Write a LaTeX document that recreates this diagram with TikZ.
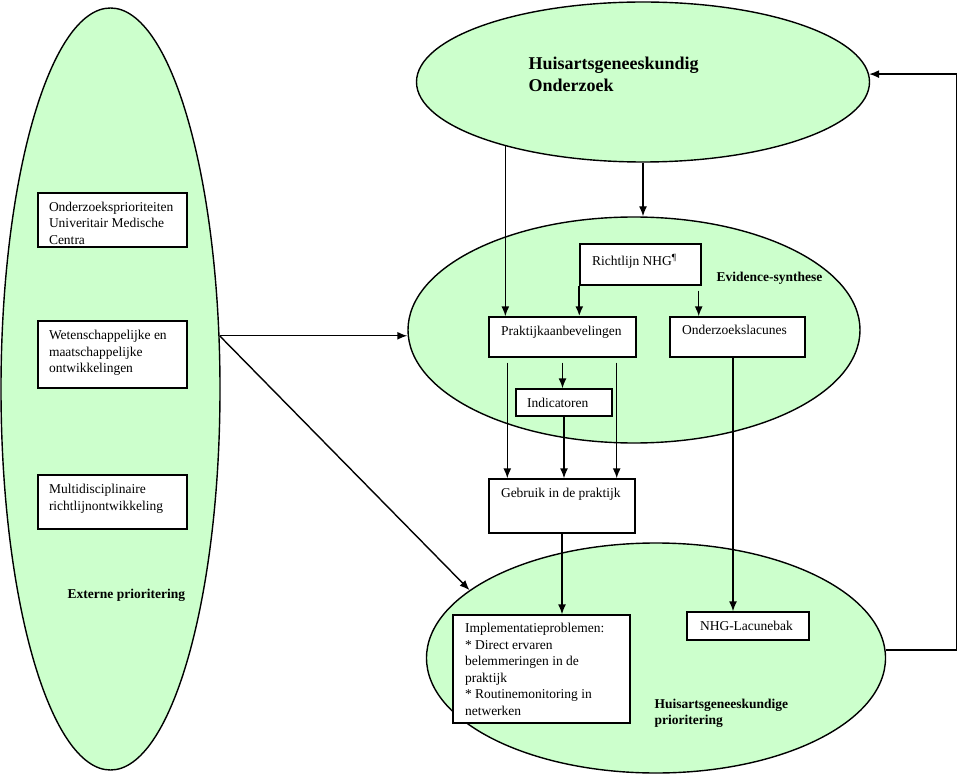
\documentclass[tikz,border=0pt]{standalone}
\usepackage{fontspec}
\setmainfont{Liberation Serif}
\usetikzlibrary{positioning,shapes.geometric,arrows.meta}
\definecolor{blobgreen}{HTML}{CCFFCC}
\tikzset{
  blob/.style={ellipse, draw, fill=blobgreen, inner sep=0},
  box/.style={draw, fill=white, inner sep=0},
  txt/.style={anchor=north west, align=left, inner sep=0, font=\fontsize{13.5}{16.5}\selectfont},
  head/.style={anchor=north west, align=left, inner sep=0, font=\fontsize{13.5}{16.5}\selectfont\bfseries},
}
\begin{document}
\begin{tikzpicture}[x=1pt,y=-1pt,>={Latex[length=10pt,width=8pt]},line width=1.4pt]
\useasboundingbox (0,0) rectangle (960,775);

% the four ellipses
\node[blob, minimum width=219, minimum height=762] (left) at (110.5,389) {};
\node[blob, minimum width=453, minimum height=160] (top) at (643,82) {};
\node[blob, minimum width=452, minimum height=226] (mid) at (634,330) {};
\node[blob, minimum width=459, minimum height=230] (bot) at (656,658) {};

\node[anchor=north west, align=left, inner sep=0, font=\fontsize{18}{22}\selectfont\bfseries] (tophead) at (528,56) {Huisartsgeneeskundig\\Onderzoek};
\node[head] (midhead) at (716,271) {Evidence-synthese};
\node[head] (lefthead) at (67,588) {Externe prioritering};
\node[head] (bothead) at (654,698) {Huisartsgeneeskundige\\prioritering};

% left column
\node[box, minimum width=149, minimum height=54, label={[txt,xshift=11pt,yshift=-9pt]north west:Onderzoeksprioriteiten\\Univeritair Medische\\Centra}] (ozp) at (112.5,220) {};
\node[box, minimum width=149, minimum height=67, label={[txt,xshift=11pt,yshift=-9.5pt]north west:Wetenschappelijke en\\maatschappelijke\\ontwikkelingen}] (wet) at (112.5,354.5) {};
\node[box, minimum width=149, minimum height=54, label={[txt,xshift=11pt,yshift=-9.5pt]north west:Multidisciplinaire\\richtlijnontwikkeling}] (multi) at (112.5,502) {};

% evidence-synthese
\node[box, minimum width=121, minimum height=41, label={[txt,xshift=12pt,yshift=-10.5pt]north west:Richtlijn NHG\textsuperscript{\P}}] (richt) at (640.5,264.5) {};
\node[box, minimum width=147, minimum height=40, label={[txt,xshift=12pt,yshift=-9.5pt]north west:Praktijkaanbevelingen}] (prakt) at (562.5,337) {};
\node[box, minimum width=135, minimum height=40, label={[txt,xshift=12pt,yshift=-8.5pt]north west:Onderzoekslacunes}] (lac) at (737.5,337) {};
\node[box, minimum width=96, minimum height=27, label={[txt,xshift=11pt,yshift=-9pt]north west:Indicatoren}] (ind) at (564,402.5) {};
\node[box, minimum width=146, minimum height=54, label={[txt,xshift=12pt,yshift=-9.5pt]north west:Gebruik in de praktijk}] (gebr) at (562,506) {};

% huisartsgeneeskundige prioritering
\node[box, minimum width=177, minimum height=108, label={[txt,xshift=12pt,yshift=-8.5pt]north west:Implementatieproblemen:\\* Direct ervaren\\belemmeringen in de\\praktijk\\* Routinemonitoring in\\netwerken}] (impl) at (541.5,669) {};
\node[box, minimum width=122, minimum height=28, label={[txt,xshift=13pt,yshift=-9.5pt]north west:NHG-Lacunebak}] (lacb) at (748,626) {};

\coordinate (src) at (left.26.5);

\draw[->] (top.south) -- (top.south |- mid.north);
\draw[->] (top.205) -- (top.205 |- prakt.north);
\draw[->,line width=2.2pt] (richt.south west) -- (richt.south west |- prakt.north);
\draw[->] ([xshift=-3pt,yshift=-5pt]richt.south east) -- ([xshift=-3pt]richt.south east |- lac.north);
\draw[->] ([yshift=-5pt]prakt.south) -- (prakt.south |- ind.north);
\draw[->] ([xshift=19pt,yshift=-5pt]prakt.south west) -- ([xshift=19pt]prakt.south west |- gebr.north);
\draw[->] ([xshift=-20pt,yshift=-5pt]prakt.south east) -- ([xshift=-20pt]prakt.south east |- gebr.north);
\draw[->] (ind.south) -- (ind.south |- gebr.north);
\draw[->] (gebr.south) -- (gebr.south |- impl.north);
\draw[->] ([xshift=-4.5pt]lac.south) -- ([xshift=-4.5pt]lac.south |- lacb.north);

\draw[->] (src) -- (src -| mid.west);
\draw[->] (src) -- (bot.160);
\draw[->] (bot.2) -- ++(71,0) |- (top.2);
\end{tikzpicture}
\end{document}
